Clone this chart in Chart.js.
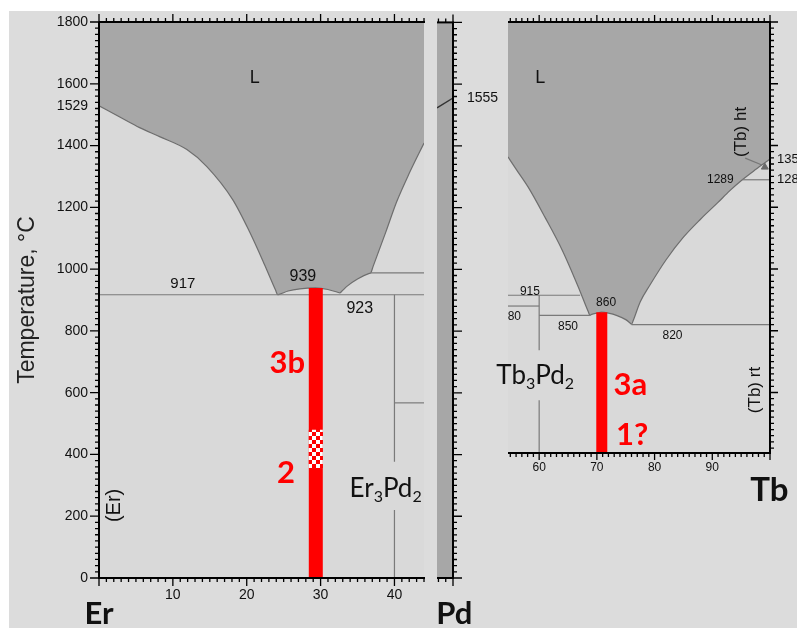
<!DOCTYPE html>
<html>
<head>
<meta charset="utf-8">
<script src="https://cdn.jsdelivr.net/npm/chart.js@4.4.1/dist/chart.umd.min.js"></script>
<style>
  body { margin: 0; background: #dcdcdc; width: 797px; height: 628px; overflow: hidden; position: relative; }
  #topband { position: absolute; left: 0; top: 0; width: 797px; height: 11px; background: #fff; }
  #leftband { position: absolute; left: 0; top: 0; width: 9px; height: 628px; background: #fff; }
  canvas { position: absolute; left: 0; top: 0; }
</style>
</head>
<body>
<div id="topband"></div>
<div id="leftband"></div>
<canvas id="erChart" width="797" height="628"></canvas>
<canvas id="pdStrip" width="797" height="628"></canvas>
<canvas id="tbChart" width="797" height="628"></canvas>
<script>
// Er-Pd side, x = at.% Pd, y = temperature in °C
const erLiquidus = [[0,1529],[3,1490],[5.5,1458],[8.2,1429],[11.9,1387],[14.6,1332],[18.1,1225],[20.4,1120],[22.4,1015],
  [23.9,932],[24.2,917],[24.5,919],[25.6,929],[27.2,936],[29.3,939],[31,934],[32.3,925],[32.6,923],[32.9,929],
  [33.6,945],[35,968],[36.6,986],[36.8,988],[37.1,1008],[38.8,1118],[40.3,1218],[42,1310],[44,1408]];
const erEutectic = [[0,917],[44,917]];
const erUpper = [[36.8,988],[44,988]];
const er3Pd2Top = [[40,917],[40,376]];
const er3Pd2Bottom = [[40,220],[40,0]];
const er3Pd2Step = [[40,567],[44,567]];
const erSample = [[29.35,0],[29.35,939]];
const erSampleChecked = [[29.35,356],[29.35,480]];
const erXTicks = [0,10,20,30,40];
const tempTicks = [0,200,400,600,800,1000,1200,1400,1529,1600,1800];

// Pd end of the Er-Pd diagram
const pdLiq = [[97.8,1523],[100,1555]];
const pdTicks = [1555];

// Tb-Pd side
const tbLiquidus = [[54.6,1363],[56.2,1318],[58.1,1265],[61,1168],[64,1061],[66.8,941],[68.5,862],[68.8,850],[69.1,853],
  [70,857],[70.8,860],[72,857],[73.5,849],[75,836],[75.7,826],[76,821],[76.3,833],[77.5,893],[79.2,948],[82,1030],
  [85,1103],[88,1162],[90.9,1214],[93,1253],[95.2,1289],[97.5,1322],[100,1356]];
const tb915 = [[54.6,915],[67.1,915]];
const tb880 = [[54.6,880],[60,880]];
const tb850 = [[60,850],[68.8,850]];
const tb820 = [[76,820],[100,820]];
const tb1289 = [[95.2,1289],[100,1289]];
const tb3Pd2Top = [[60,915],[60,737]];
const tb3Pd2Bottom = [[60,575],[60,404]];
const tbHtPointer = [[95.7,1359],[98.6,1337]];
const tbHtMark = [[99.1,1330]];
const tbSample = [[70.85,404],[70.85,860]];
const tbXTicks = [60,70,80,90,100];
const tbRightTicks = [1289,1356];

const SANS = '"Liberation Sans", Arial, sans-serif';
const LATO = 'Lato, "Open Sans", sans-serif';
const L_GRAY = '#a7a7a7';
const PLOT_BG = '#d9d9d9';
const LINE = '#6e6e6e';
const THIN = '#7a7a7a';

const pts = (a) => a.map(([x, y]) => ({ x, y }));

function line(data, extra) {
  return Object.assign({
    data: pts(data), showLine: true, borderColor: THIN, borderWidth: 1.2,
    pointRadius: 0, fill: false
  }, extra);
}
function liquidus(data) {
  return line(data, { borderColor: LINE, fill: 'end', backgroundColor: L_GRAY, cubicInterpolationMode: 'monotone' });
}

// checker pattern for the mixed part of the red bar
const pc = document.createElement('canvas');
pc.width = pc.height = 8;
const pg = pc.getContext('2d');
pg.fillStyle = '#fff'; pg.fillRect(0, 0, 8, 8);
pg.fillStyle = '#ff0000'; pg.fillRect(0, 0, 4, 4); pg.fillRect(4, 4, 4, 4);
const checker = pg.createPattern(pc, 'repeat');

function framePlugin(bg, sides) {
  return {
    id: 'frame',
    beforeDraw(chart) {
      const { ctx, chartArea: a } = chart;
      ctx.save();
      ctx.fillStyle = bg;
      ctx.fillRect(a.left, a.top, a.right - a.left, a.bottom - a.top);
      ctx.restore();
    },
    afterDraw(chart) {
      const { ctx, chartArea: a, scales } = chart;
      ctx.save();
      ctx.strokeStyle = '#000';
      sides.forEach((s) => {
        const sc = scales[s.axis];
        const horiz = s.at === 'top' || s.at === 'bottom';
        const base = a[s.at];
        const dir = (s.at === 'top' || s.at === 'left') ? -1 : 1;
        ctx.lineWidth = 2;
        ctx.beginPath();
        if (horiz) { ctx.moveTo(a.left, base); ctx.lineTo(a.right + 1, base); }
        else { ctx.moveTo(base, a.top); ctx.lineTo(base, a.bottom + 1); }
        ctx.stroke();
        ctx.lineWidth = 1.3;
        ctx.beginPath();
        const n0 = Math.ceil(sc.min / s.minor - 1e-9), n1 = Math.floor(sc.max / s.minor + 1e-9);
        for (let i = n0; i <= n1; i++) {
          const v = i * s.minor;
          const major = Math.abs(v / s.major - Math.round(v / s.major)) < 1e-6;
          const len = major ? s.majorLen : s.minorLen;
          const p = sc.getPixelForValue(v);
          if (horiz) { ctx.moveTo(p, base); ctx.lineTo(p, base + dir * len); }
          else { ctx.moveTo(base, p); ctx.lineTo(base + dir * len, p); }
        }
        ctx.stroke();
      });
      ctx.restore();
    }
  };
}

function drawFormula(ctx, parts, size, family) {
  const big = size + 'px ' + family, small = Math.round(size * 0.62) + 'px ' + family;
  let w = 0;
  parts.forEach((p, i) => { ctx.font = i % 2 ? small : big; w += ctx.measureText(p).width; });
  let cx = -w / 2;
  ctx.textAlign = 'left';
  parts.forEach((p, i) => {
    ctx.font = i % 2 ? small : big;
    ctx.fillText(p, cx, i % 2 ? size * 0.32 : 0);
    cx += ctx.measureText(p).width;
  });
}

function notesPlugin(notes) {
  return {
    id: 'notes',
    afterDraw(chart) {
      const { ctx, scales: { x, y } } = chart;
      notes.forEach((n) => {
        ctx.save();
        ctx.translate(x.getPixelForValue(n.x), y.getPixelForValue(n.y));
        if (n.rot) ctx.rotate(-Math.PI / 2);
        ctx.fillStyle = n.color || '#111';
        ctx.textAlign = 'center';
        ctx.textBaseline = 'middle';
        if (n.parts) drawFormula(ctx, n.parts, n.size, n.family || LATO);
        else { ctx.font = n.font; ctx.fillText(n.t, 0, 0); }
        ctx.restore();
      });
    }
  };
}

const baseOpts = {
  responsive: false,
  animation: false,
  events: [],
  plugins: { legend: { display: false }, tooltip: { enabled: false } },
};

function labelScale(extra) {
  return Object.assign({
    type: 'linear',
    grid: { display: false, drawTicks: false },
    border: { display: false },
  }, extra);
}

// ---------- Er-Pd (left panel) ----------
const erNotes = [
  { x: 21.1, y: 1619, t: 'L', font: '18px ' + SANS },
  { x: 11.35, y: 951, t: '917', font: '15px ' + SANS },
  { x: 27.6, y: 977, t: '939', font: '16px ' + SANS },
  { x: 35.3, y: 873, t: '923', font: '16px ' + SANS },
  { x: 25.5, y: 695, t: '3b', font: 'bold 31px ' + LATO, color: '#ff0000' },
  { x: 25.3, y: 339, t: '2', font: 'bold 31px ' + LATO, color: '#ff0000' },
  { x: 38.8, y: 290, parts: ['Er', '3', 'Pd', '2'], size: 26 },
  { x: 2.16, y: 235, t: '(Er)', font: '20px ' + SANS, rot: true },
  { x: 0, y: -118, t: 'Er', font: 'bold 31px ' + LATO },
  { x: 48.1, y: -115, t: 'Pd', font: 'bold 31px ' + LATO },
];

new Chart(document.getElementById('erChart'), {
  type: 'scatter',
  data: {
    datasets: [
      line(erSampleChecked, { borderColor: checker, borderWidth: 14, borderCapStyle: 'butt' }),
      line(erSample, { borderColor: '#ff0000', borderWidth: 14, borderCapStyle: 'butt' }),
      line(erEutectic),
      line(erUpper),
      line(er3Pd2Top),
      line(er3Pd2Bottom),
      line(er3Pd2Step),
      liquidus(erLiquidus),
    ]
  },
  options: Object.assign({}, baseOpts, {
    layout: { padding: { left: 14, top: 22, right: 373, bottom: 20 } },
    scales: {
      x: labelScale({
        min: 0, max: 44,
        afterBuildTicks: (s) => { s.ticks = erXTicks.map((v) => ({ value: v })); },
        afterFit: (s) => { s.height = 30; },
        ticks: { padding: 9, autoSkip: false, maxRotation: 0, color: '#111',
          font: { family: SANS, size: 14 }, callback: (v) => (v === 0 ? '' : String(v)) }
      }),
      y: labelScale({
        min: 0, max: 1800,
        afterBuildTicks: (s) => { s.ticks = tempTicks.map((v) => ({ value: v })); },
        afterFit: (s) => { s.width = 85; },
        ticks: { padding: 11, autoSkip: false, color: '#111',
          font: { family: SANS, size: 14 }, callback: (v) => String(v) },
        title: { display: true, text: 'Temperature, °C', color: '#222', padding: 0,
          font: { family: SANS, size: 23 } }
      })
    }
  }),
  plugins: [
    framePlugin(PLOT_BG, [
      { axis: 'y', at: 'left', minor: 20, major: 200, minorLen: 4, majorLen: 9 },
      { axis: 'x', at: 'bottom', minor: 1, major: 10, minorLen: 4, majorLen: 8 },
      { axis: 'x', at: 'top', minor: 1, major: 10, minorLen: 4, majorLen: 8 },
    ]),
    notesPlugin(erNotes)
  ]
});

// ---------- Pd end strip ----------
new Chart(document.getElementById('pdStrip'), {
  type: 'scatter',
  data: { datasets: [ line(pdLiq, { borderColor: '#333', borderWidth: 1.4 }) ] },
  options: Object.assign({}, baseOpts, {
    layout: { padding: { left: 437, top: 22, right: 284, bottom: 50 } },
    scales: {
      x: { type: 'linear', display: false, min: 97.8, max: 100 },
      y: labelScale({
        position: 'right', min: 0, max: 1800,
        afterBuildTicks: (s) => { s.ticks = pdTicks.map((v) => ({ value: v })); },
        afterFit: (s) => { s.width = 60; },
        ticks: { padding: 14, autoSkip: false, color: '#111',
          font: { family: SANS, size: 14 }, callback: (v) => String(v) }
      })
    }
  }),
  plugins: [
    framePlugin(L_GRAY, [
      { axis: 'y', at: 'right', minor: 20, major: 200, minorLen: 4, majorLen: 9 },
      { axis: 'x', at: 'bottom', minor: 1, major: 10, minorLen: 4, majorLen: 8 },
      { axis: 'x', at: 'top', minor: 1, major: 10, minorLen: 4, majorLen: 8 },
    ])
  ]
});

// ---------- Tb-Pd (right panel) ----------
const tbNotes = [
  { x: 60.2, y: 1619, t: 'L', font: '18px ' + SANS },
  { x: 58.4, y: 928, t: '915', font: '12px ' + SANS },
  { x: 55.7, y: 847, t: '80', font: '12px ' + SANS },
  { x: 65.0, y: 812, t: '850', font: '12px ' + SANS },
  { x: 71.6, y: 890, t: '860', font: '12px ' + SANS },
  { x: 83.1, y: 783, t: '820', font: '12px ' + SANS },
  { x: 91.4, y: 1288, t: '1289', font: '12px ' + SANS },
  { x: 59.3, y: 655, parts: ['Tb', '3', 'Pd', '2'], size: 26 },
  { x: 75.8, y: 624, t: '3a', font: 'bold 31px ' + LATO, color: '#ff0000' },
  { x: 76.1, y: 462, t: '1?', font: 'bold 31px ' + LATO, color: '#ff0000' },
  { x: 95.0, y: 1444, t: '(Tb) ht', font: '17px ' + SANS, rot: true },
  { x: 97.4, y: 608, t: '(Tb) rt', font: '17px ' + SANS, rot: true },
  { x: 99.9, y: 284, t: 'Tb', font: 'bold 33px ' + LATO },
];

new Chart(document.getElementById('tbChart'), {
  type: 'scatter',
  data: {
    datasets: [
      line(tbSample, { borderColor: '#ff0000', borderWidth: 11, borderCapStyle: 'butt' }),
      { data: pts(tbHtMark), pointStyle: 'triangle', pointRadius: 4, backgroundColor: '#6a6a6a', borderColor: '#6a6a6a' },
      line(tbHtPointer, { borderColor: '#777' }),
      line(tb915),
      line(tb880),
      line(tb850),
      line(tb820),
      line(tb1289),
      line(tb3Pd2Top),
      line(tb3Pd2Bottom),
      liquidus(tbLiquidus),
    ]
  },
  options: Object.assign({}, baseOpts, {
    layout: { padding: { left: 508, top: 22, right: 0, bottom: 150 } },
    scales: {
      x: labelScale({
        min: 54.6, max: 100,
        afterBuildTicks: (s) => { s.ticks = tbXTicks.map((v) => ({ value: v })); },
        afterFit: (s) => { s.height = 25; },
        ticks: { padding: 7, autoSkip: false, maxRotation: 0, color: '#111',
          font: { family: SANS, size: 12 }, callback: (v) => (v === 100 ? '' : String(v)) }
      }),
      y: labelScale({
        position: 'right', min: 404, max: 1800,
        afterBuildTicks: (s) => { s.ticks = tbRightTicks.map((v) => ({ value: v })); },
        afterFit: (s) => { s.width = 27; },
        ticks: { padding: 7, autoSkip: false, color: '#111',
          font: { family: SANS, size: 13 }, callback: (v) => String(v) }
      })
    }
  }),
  plugins: [
    framePlugin(PLOT_BG, [
      { axis: 'y', at: 'right', minor: 20, major: 200, minorLen: 4, majorLen: 8 },
      { axis: 'x', at: 'bottom', minor: 1, major: 10, minorLen: 4, majorLen: 7 },
      { axis: 'x', at: 'top', minor: 1, major: 10, minorLen: 4, majorLen: 7 },
    ]),
    notesPlugin(tbNotes)
  ]
});
</script>
</body>
</html>
